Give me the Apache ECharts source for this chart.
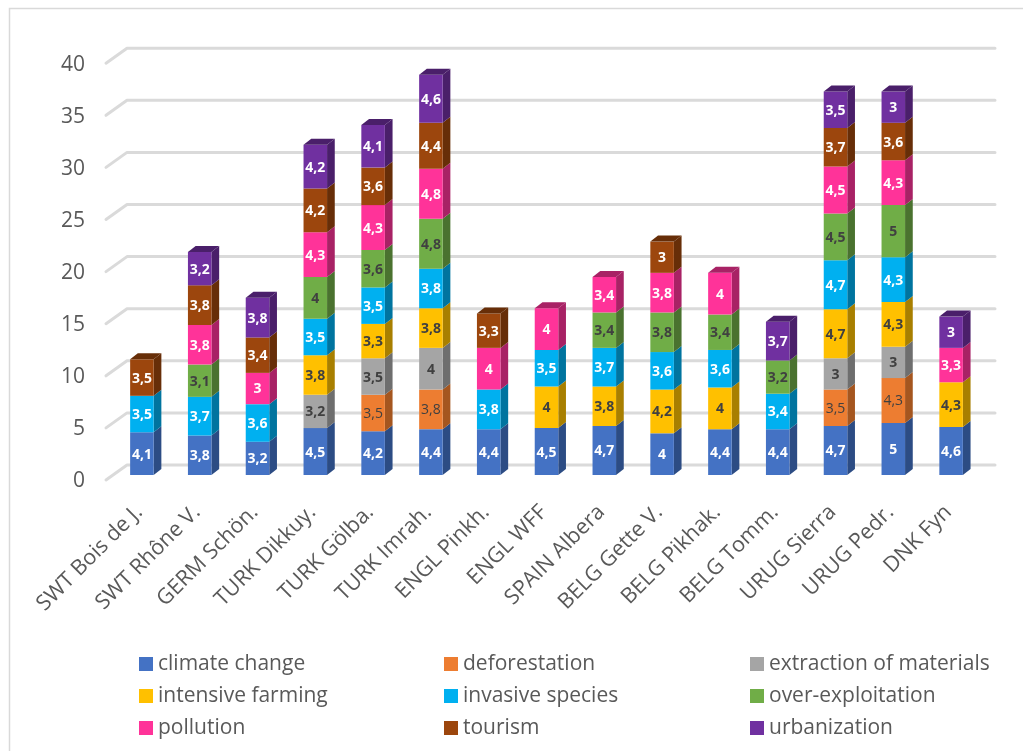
<!DOCTYPE html>
<html>
<head>
<meta charset="utf-8">
<title>Threats per site</title>
<style>html,body{margin:0;padding:0;background:#fff}#chart{width:1023px;height:751px}</style>
<script src="https://cdn.jsdelivr.net/npm/echarts@6/dist/echarts.min.js"></script>
</head>
<body>
<div id="chart"></div>
<script>
const categories = ['SWT Bois de J.','SWT Rhône V.','GERM Schön.','TURK Dikkuy.','TURK Gölba.','TURK Imrah.','ENGL Pinkh.','ENGL WFF','SPAIN Albera','BELG Gette V.','BELG Pikhak.','BELG Tomm.','URUG Sierra','URUG Pedr.','DNK Fyn'];
const yTicks = [0,5,10,15,20,25,30,35,40];

const climateChange   = [4.1,3.8,3.2,4.5,4.2,4.4,4.4,4.5,4.7,4,4.4,4.4,4.7,5,4.6];
const deforestation   = [null,null,null,null,3.5,3.8,null,null,null,null,null,null,3.5,4.3,null];
const extraction      = [null,null,null,3.2,3.5,4,null,null,null,null,null,null,3,3,null];
const intensiveFarm   = [null,null,null,3.8,3.3,3.8,null,4,3.8,4.2,4,null,4.7,4.3,4.3];
const invasiveSpecies = [3.5,3.7,3.6,3.5,3.5,3.8,3.8,3.5,3.7,3.6,3.6,3.4,4.7,4.3,null];
const overExploit     = [null,3.1,null,4,3.6,4.8,null,null,3.4,3.8,3.4,3.2,4.5,5,null];
const pollution       = [null,3.8,3,4.3,4.3,4.8,4,4,3.4,3.8,4,null,4.5,4.3,3.3];
const tourism         = [3.5,3.8,3.4,4.2,3.6,4.4,3.3,null,null,3,null,null,3.7,3.6,null];
const urbanization    = [null,3.2,3.8,4.2,4.1,4.6,null,null,null,null,null,3.7,3.5,3,3];

const seriesDefs = [
  {name:'climate change',          values:climateChange,   color:'#4472C4', side:'#2C4C84', top:'#2C4C84', text:'#FFFFFF', weight:'bold'},
  {name:'deforestation',           values:deforestation,   color:'#ED7D31', side:'#A5561F', top:'#A5561F', text:'#404040', weight:'normal'},
  {name:'extraction of materials', values:extraction,      color:'#A5A5A5', side:'#6E6E6E', top:'#6E6E6E', text:'#404040', weight:'bold'},
  {name:'intensive farming',       values:intensiveFarm,   color:'#FFC000', side:'#A87F00', top:'#A87F00', text:'#404040', weight:'bold'},
  {name:'invasive species',        values:invasiveSpecies, color:'#00B0F0', side:'#00749F', top:'#00749F', text:'#FFFFFF', weight:'bold'},
  {name:'over-exploitation',       values:overExploit,     color:'#70AD47', side:'#4A722F', top:'#4A722F', text:'#404040', weight:'bold'},
  {name:'pollution',               values:pollution,       color:'#FF3399', side:'#A82265', top:'#A82265', text:'#FFFFFF', weight:'bold'},
  {name:'tourism',                 values:tourism,         color:'#9C460D', side:'#672E08', top:'#672E08', text:'#FFFFFF', weight:'bold'},
  {name:'urbanization',            values:urbanization,    color:'#7030A0', side:'#4A1F6A', top:'#4A1F6A', text:'#FFFFFF', weight:'bold'}
];

const FONT = '"Open Sans"';
const TEXT_COLOR = '#595959';
const DEPTH_X = 7.7;     // bar depth, projected
const DEPTH_Y = 6;
const BAR_SHARE = 0.407; // bar width as a share of the category band

// Running totals give each segment its start and end on the value axis.
const totals = categories.map(() => 0);
const lastIndex = categories.map((_, c) => {
  let last = -1;
  seriesDefs.forEach((s, i) => { if (s.values[c] != null) last = i; });
  return last;
});
const stackedSeries = seriesDefs.map((s, si) => ({
  name: s.name,
  type: 'custom',
  z: 3,
  itemStyle: {color: s.color},
  encode: {x: 0, y: [1, 2]},
  data: s.values.map((v, c) => {
    if (v == null) return null;
    const start = totals[c];
    totals[c] += v;
    return [c, start, totals[c], v, lastIndex[c] === si ? 1 : 0];
  }).filter(Boolean),
  renderItem(params, api) {
    const c = api.value(0);
    const low = api.coord([c, api.value(1)]);
    const high = api.coord([c, api.value(2)]);
    const w = api.size([1, 0])[0] * BAR_SHARE;
    const x0 = low[0] - w / 2, x1 = low[0] + w / 2;
    const children = [
      {type:'polygon', shape:{points:[[x1,low[1]],[x1+DEPTH_X,low[1]-DEPTH_Y],[x1+DEPTH_X,high[1]-DEPTH_Y],[x1,high[1]]]}, style:{fill:s.side}},
      {type:'rect', shape:{x:x0, y:high[1], width:w, height:low[1]-high[1]}, style:{fill:s.color}},
      {type:'text', z2:5, style:{
        x: low[0], y: (low[1]+high[1])/2 + 1,
        text: String(api.value(3)).replace('.', ','),
        align:'center', verticalAlign:'middle',
        fill:s.text, fontFamily:FONT, fontSize:14, fontWeight:s.weight
      }}
    ];
    if (api.value(4)) {
      children.push({type:'polygon', shape:{points:[[x0,high[1]],[x1,high[1]],[x1+DEPTH_X,high[1]-DEPTH_Y],[x0+DEPTH_X,high[1]-DEPTH_Y]]}, style:{fill:s.top}});
    }
    return {type:'group', children};
  }
}));

// Back wall and side wall rules, one per value tick.
const wallRules = {
  type: 'custom',
  silent: true,
  z: 1,
  encode: {x: 0, y: 1},
  data: yTicks.map(t => [0, t]),
  renderItem(params, api) {
    const y = api.coord([0, api.value(1)])[1];
    const g = params.coordSys;
    const style = {stroke:'#DADADA', lineWidth:3, fill:null, lineCap:'round', lineJoin:'round'};
    return {type:'polyline', shape:{points:[[g.x-7,y+5],[g.x+14,y-10],[g.x+g.width+15,y-10]]}, style};
  }
};

const legendStyle = {
  orient:'vertical', top:653.5, padding:0, itemWidth:14, itemHeight:14, itemGap:11, icon:'rect', selectedMode:false,
  textStyle:{fontFamily:FONT, fontSize:21, color:TEXT_COLOR}
};
const names = seriesDefs.map(s => s.name);

const chart = echarts.init(document.getElementById('chart'), null, {renderer:'canvas'});
chart.setOption({
  animation:false,
  backgroundColor:'#FFFFFF',
  grid:{left:113, top:58.2, width:867, height:416.8},
  graphic:[{type:'polyline', silent:true, z:-1, shape:{points:[[9.5,751],[9.5,8.5],[1023,8.5]]}, style:{fill:'none', stroke:'#D9D9D9', lineWidth:1.5}}],
  legend:[
    Object.assign({left:139, data:[names[0],names[3],names[6]]}, legendStyle),
    Object.assign({left:444, data:[names[1],names[4],names[7]]}, legendStyle),
    Object.assign({left:750, data:[names[2],names[5],names[8]]}, legendStyle)
  ],
  xAxis:{
    type:'category', data:categories,
    axisLine:{show:false}, axisTick:{show:false}, splitLine:{show:false},
    axisLabel:{interval:0, rotate:45, margin:31, color:TEXT_COLOR, fontFamily:FONT, fontSize:21.5, padding:[0,4,0,0]}
  },
  yAxis:{
    type:'value', min:0, max:40, interval:5,
    axisLine:{show:false}, axisTick:{show:false}, splitLine:{show:false},
    axisLabel:{margin:28, color:TEXT_COLOR, fontFamily:FONT, fontSize:21, verticalAlign:'top', lineHeight:13}
  },
  series:[wallRules].concat(stackedSeries)
});
</script>
</body>
</html>
